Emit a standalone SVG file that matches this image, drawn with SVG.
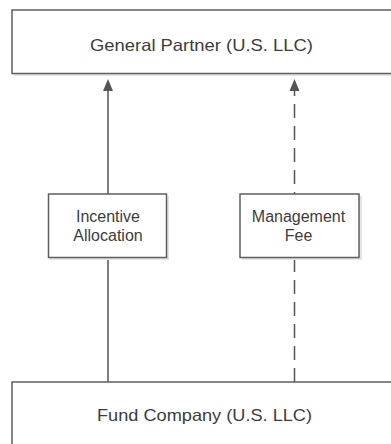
<svg xmlns="http://www.w3.org/2000/svg" width="391" height="444" viewBox="0 0 391 444">
<style>
.box{fill:#ffffff;stroke:#5f5f5f;stroke-width:1.5}
.shadow{fill:#e4e4e4;stroke:none}
.big{font-family:"Liberation Sans",Arial,sans-serif;font-size:16.5px;fill:#3c3c3c;text-anchor:middle}
.small{font-family:"Liberation Sans",Arial,sans-serif;font-size:16px;fill:#3c3c3c;text-anchor:middle}
.conn{stroke:#555555;stroke-width:1.5;fill:none}
.dash{stroke-dasharray:14 8}
</style>
<defs>
<marker id="arr" viewBox="0 0 10 12" refX="5" refY="0" markerWidth="10" markerHeight="12" markerUnits="userSpaceOnUse" orient="auto-start-reverse">
<path d="M0,12 L5,0 L10,12 Z" fill="#555555"/>
</marker>
</defs>
<rect width="391" height="444" fill="#ffffff"/>
<g id="connectors">
<line class="conn" x1="108" y1="382" x2="108" y2="90"/>
<path d="M103,91 L108,79 L113,91 Z" fill="#555555"/>
<line class="conn dash" x1="294.5" y1="382" x2="294.5" y2="90"/>
<path d="M289.5,91 L294.5,79 L299.5,91 Z" fill="#555555"/>
</g>
<g id="general-partner">
<rect class="shadow" x="14" y="12" width="400" height="64"/>
<rect class="box" x="12" y="10" width="400" height="63.5"/>
<text class="big" x="201.5" y="50.5" textLength="223" lengthAdjust="spacingAndGlyphs">General Partner (U.S. LLC)</text>
</g>
<g id="incentive-allocation">
<rect class="shadow" x="50" y="196" width="119" height="64"/>
<rect class="box" x="48.5" y="194" width="118" height="63.5"/>
<text class="small" x="108" y="221.5">Incentive</text>
<text class="small" x="108" y="241">Allocation</text>
</g>
<g id="management-fee">
<rect class="shadow" x="242" y="196" width="120" height="64"/>
<rect class="box" x="240" y="194" width="119" height="63.5"/>
<text class="small" x="298.5" y="221.5">Management</text>
<text class="small" x="298.5" y="241">Fee</text>
</g>
<g id="fund-company">
<rect class="shadow" x="14" y="384" width="400" height="80"/>
<rect class="box" x="12" y="382" width="400" height="80"/>
<text class="big" x="204.5" y="420.5" textLength="215" lengthAdjust="spacingAndGlyphs">Fund Company (U.S. LLC)</text>
</g>
</svg>
